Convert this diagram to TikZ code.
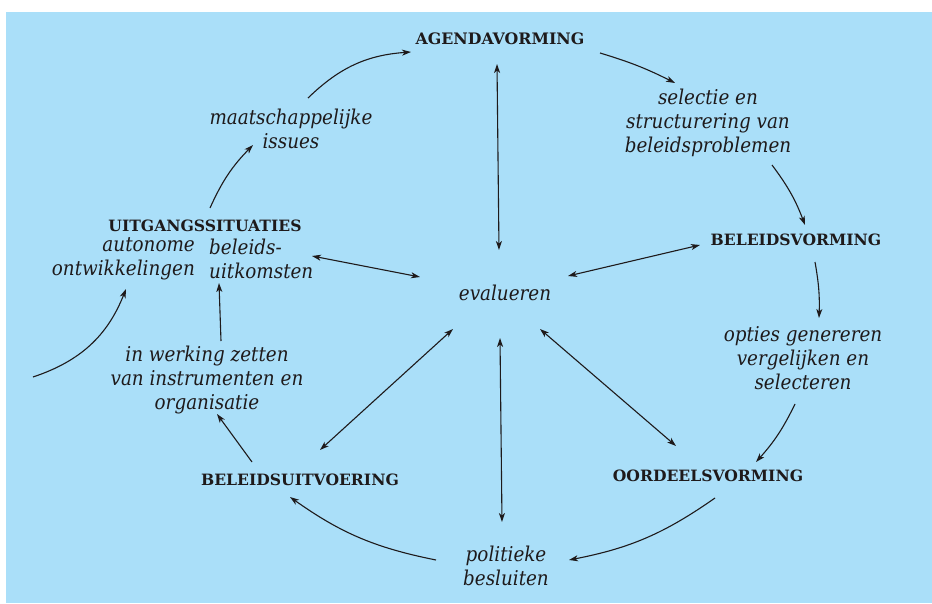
\documentclass[tikz,border=0pt]{standalone}
\usepackage{fontspec}
\newfontfamily\kopfont{DejaVu Serif}
\newfontfamily\tekstfont{DejaVu Serif Condensed}
\usepackage{tikz}
\usetikzlibrary{arrows.meta,backgrounds,calc}
\definecolor{achtergrond}{RGB}{170,223,249}
\definecolor{inkt}{RGB}{30,26,27}
\tikzset{
  fase/.style={font={\kopfont\bfseries\fontsize{15.6}{18}\selectfont}, text=inkt, inner sep=1pt},
  tussen/.style={font={\tekstfont\itshape\fontsize{20.4}{24}\selectfont}, text=inkt, align=center, inner sep=1pt},
  pijl/.style={draw=inkt, line width=1.1pt, -{Stealth[length=9pt,width=6pt,inset=2.5pt]}},
  heen/.style={pijl, {Stealth[length=9pt,width=6pt,inset=2.5pt]}-{Stealth[length=9pt,width=6pt,inset=2.5pt]}}
}

\begin{document}
\begin{tikzpicture}[x=1pt,y=-1pt]
\useasboundingbox (0,0) rectangle (932,604);
\fill[achtergrond] (6,12) rectangle (932,603);

\node[fase,font={\kopfont\bfseries\fontsize{15.8}{18}\selectfont}] (agenda) at (500,39) {AGENDAVORMING};
\node[fase] (bvorming) at (796,240) {BELEIDSVORMING};
\node[fase] (oordeel) at (708,476) {OORDEELSVORMING};
\node[fase] (uitvoering) at (300,480) {BELEIDSUITVOERING};
\node[fase] (uitgang) at (205,226) {UITGANGSSITUATIES};

\node[tussen] (selectie) at (708,123) {selectie en\\structurering van\\beleidsproblemen};
\node[tussen] (opties) at (803,358) {opties genereren\\vergelijken en\\selecteren};
\node[tussen] (besluiten) at (506,566) {politieke\\besluiten};
\node[tussen] (werking) at (207,380) {in werking zetten\\van instrumenten en\\organisatie};
\node[tussen] (issues) at (291,129) {maatschappelijke\\issues};
\node[tussen,align=right,anchor=east] (autonoom) at (196,259) {autonome\\ontwikkelingen};
\node[tussen,align=left,anchor=west] (uitkomst) at (208,259) {beleids-\\uitkomsten};
\node[tussen] (eval) at (505,293) {evalueren};
\coordinate (instroom) at (33,377);

% de kringloop
\draw[pijl] ([shift={(17,-31)}]issues.center) to[bend left=20] ([shift={(-89,13)}]agenda.center);
\draw[pijl] ([shift={(100,14)}]agenda.center) to[bend left=5] ([shift={(-33,-40)}]selectie.center);
\draw[pijl] ([shift={(64,42)}]selectie.center) to[bend left=8] ([shift={(9,-15)}]bvorming.center);
\draw[pijl] ([shift={(19,22)}]bvorming.center) to[bend left=6] ([shift={(16,-40)}]opties.center);
\draw[pijl] ([shift={(-8,46)}]opties.center) to[bend left=8] ([shift={(48,-14)}]oordeel.center);
\draw[pijl] ([shift={(7,22)}]oordeel.center) to[bend left=12] ([shift={(63,-6)}]besluiten.center);
\draw[pijl] ([shift={(-70,-6)}]besluiten.center) to[bend left=12] ([shift={(-10,17)}]uitvoering.center);
\draw[pijl] ([shift={(-48,-18)}]uitvoering.center) -- ([shift={(10,34)}]werking.center);
\draw[pijl] ([shift={(14,-39)}]werking.center) -- ([shift={(11,24)}]uitkomst.west);
\draw[pijl] (instroom) to[bend right=25] ([shift={(-70,30)}]autonoom.east);
\draw[pijl] ([shift={(5,-18)}]uitgang.center) to[bend left=10] ([shift={(-38,16)}]issues.center);

% evalueren
\draw[heen] ([shift={(-3,25)}]agenda.center) -- ([shift={(-6,-43)}]eval.center);
\draw[heen] ([shift={(-96,5)}]bvorming.center) -- ([shift={(63,-17)}]eval.center);
\draw[heen] ([shift={(104,-3)}]uitkomst.west) -- ([shift={(-85,-16)}]eval.center);
\draw[heen] ([shift={(20,-30)}]uitvoering.center) -- ([shift={(-52,36)}]eval.center);
\draw[heen] ([shift={(-32,-30)}]oordeel.center) -- ([shift={(35,36)}]eval.center);
\draw[heen] ([shift={(-4,-44)}]besluiten.center) -- ([shift={(-5,45)}]eval.center);
\end{tikzpicture}
\end{document}
